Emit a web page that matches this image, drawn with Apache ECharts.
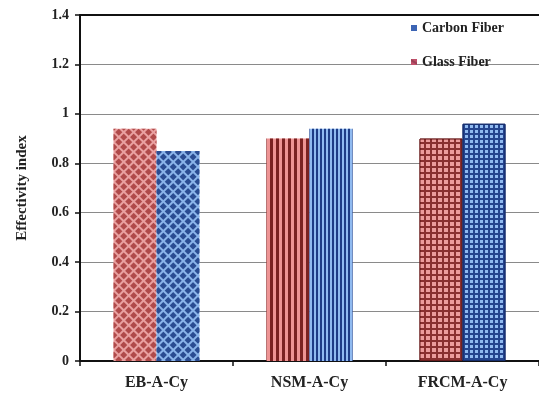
<!DOCTYPE html>
<html><head><meta charset="utf-8">
<script src="https://cdn.jsdelivr.net/npm/echarts@6/dist/echarts.min.js"></script>
<style>html,body{margin:0;padding:0;background:#fff}#c{width:539px;height:400px}</style>
</head><body><div id="c"></div>
<script>
const categories = ['EB-A-Cy', 'NSM-A-Cy', 'FRCM-A-Cy'];
const glassFiber = [0.94, 0.90, 0.90];
const carbonFiber = [0.85, 0.94, 0.96];
const yTicks = [0, 0.2, 0.4, 0.6, 0.8, 1, 1.2, 1.4];

const serif = '"Liberation Serif", "Times New Roman", serif';

const glassStyle = [
  { color: '#e9a0a0', decal: { symbol: 'rect', symbolSize: 1, dashArrayX: [4.5, 1.6], dashArrayY: [4.5, 1.6], rotation: Math.PI / 4, color: '#b04a4a' } },
  { color: '#ee9494', decal: { symbol: 'rect', symbolSize: 1, dashArrayX: [2.5, 2.8], dashArrayY: [10, 0], color: '#7a2222' } },
  { color: '#8a3030', borderColor: '#6a1c1c', borderWidth: 1, decal: { symbol: 'rect', symbolSize: 1, dashArrayX: [3.3, 1.2], dashArrayY: [3.3, 1.2], color: '#ec9c9c' } }
];
const carbonStyle = [
  { color: '#8ab4ea', decal: { symbol: 'rect', symbolSize: 1, dashArrayX: [4.5, 1.6], dashArrayY: [4.5, 1.6], rotation: Math.PI / 4, color: '#2a4c92' } },
  { color: '#90baf0', decal: { symbol: 'rect', symbolSize: 1, dashArrayX: [1.6, 2], dashArrayY: [10, 0], color: '#1e3c86' } },
  { color: '#24448e', borderColor: '#172f6e', borderWidth: 1, decal: { symbol: 'rect', symbolSize: 1, dashArrayX: [3, 1.2], dashArrayY: [3, 1.2], color: '#90baf0' } }
];

function build(vals, styles) {
  return vals.map((v, i) => ({ value: v, itemStyle: styles[i] }));
}

const chart = echarts.init(document.getElementById('c'));
chart.setOption({
  animation: false,
  aria: { decal: { show: true } },
  grid: { left: 80, right: 0, top: 15, bottom: 39 },
  legend: {
    data: ['Carbon Fiber', 'Glass Fiber'],
    orient: 'vertical', left: 406, top: 16, itemGap: 20,
    itemWidth: 6, itemHeight: 6, icon: 'rect',
    textStyle: { fontFamily: serif, fontWeight: 'bold', fontSize: 14, color: '#222' }
  },
  xAxis: [{
    type: 'category', data: categories,
    axisLine: { lineStyle: { color: '#111', width: 2 } },
    axisTick: { show: true, length: 5, lineStyle: { color: '#111', width: 1.5 } },
    axisLabel: { fontFamily: serif, fontWeight: 'bold', fontSize: 16, color: '#222', margin: 14 }
  }, {
    type: 'category', data: categories, position: 'top',
    axisLine: { lineStyle: { color: '#111', width: 2 } },
    axisTick: { show: false }, axisLabel: { show: false }
  }],
  yAxis: {
    type: 'value', min: 0, max: 1.4, interval: 0.2,
    name: 'Effectivity index', nameLocation: 'middle', nameGap: 50, nameRotate: 90,
    nameTextStyle: { fontFamily: serif, fontWeight: 'bold', fontSize: 15, color: '#222' },
    axisLine: { show: true, lineStyle: { color: '#111', width: 2 } },
    axisTick: { show: true, length: 5, lineStyle: { color: '#111', width: 1.5 } },
    axisLabel: {
      fontFamily: serif, fontWeight: 'bold', fontSize: 14, color: '#222', margin: 11,
      formatter: v => { const t = yTicks.find(x => Math.abs(x - v) < 1e-9); return String(t !== undefined ? t : v); }
    },
    splitLine: { lineStyle: { color: '#8a8a8a', width: 1 } }
  },
  series: [{
    name: 'Glass Fiber', type: 'bar', barWidth: 43, barGap: '0%',
    itemStyle: { color: '#c0506a' },
    data: build(glassFiber, glassStyle)
  }, {
    name: 'Carbon Fiber', type: 'bar', barWidth: 43,
    itemStyle: { color: '#3c64b4' },
    data: build(carbonFiber, carbonStyle)
  }]
});
</script></body></html>
